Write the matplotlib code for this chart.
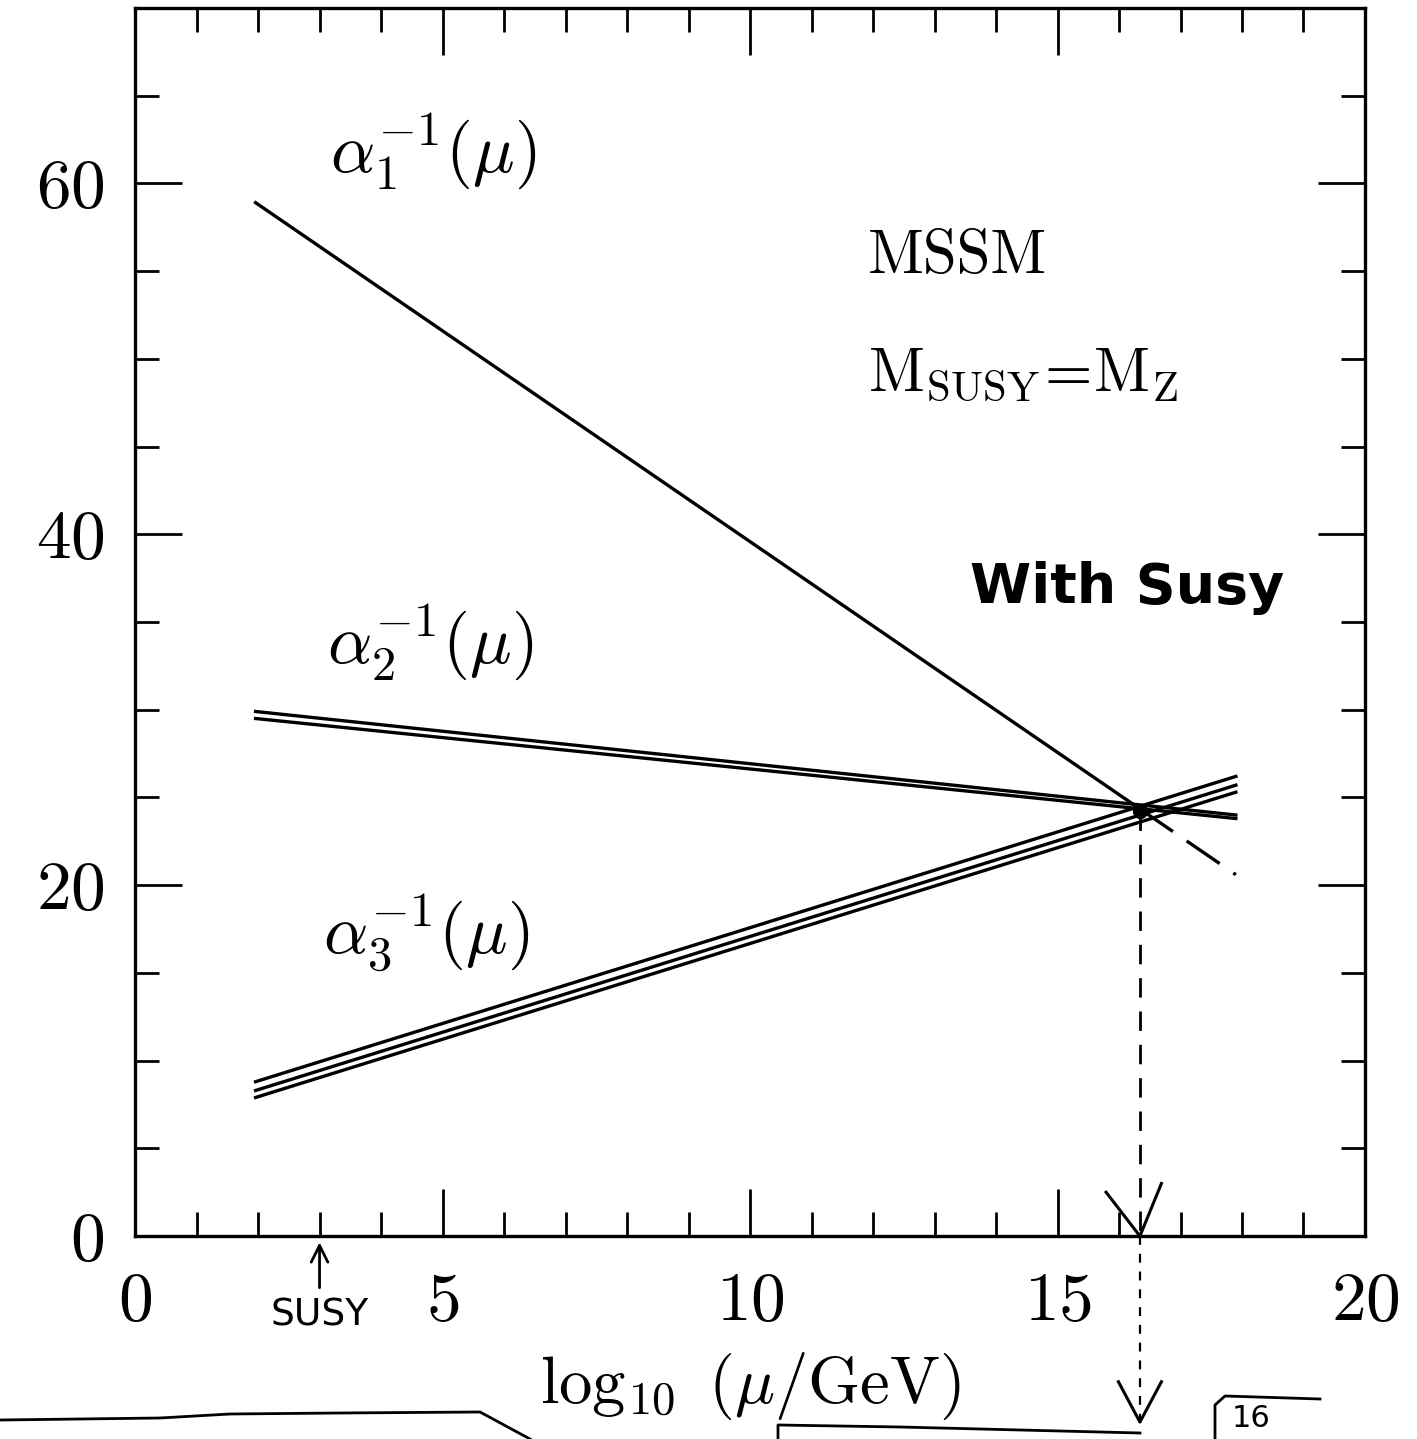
import numpy as np
import matplotlib
matplotlib.use('Agg')
import matplotlib.pyplot as plt

plt.rcParams['mathtext.fontset'] = 'cm'
plt.rcParams['font.family'] = ['cmr10', 'DejaVu Serif']
plt.rcParams['axes.formatter.use_mathtext'] = True

# endpoints of the running couplings (log10 of mu/GeV)
log_mu = [1.96, 17.9]
alpha1_inv = [58.9, 20.6]
alpha2_inv_hi = [29.9, 24.0]
alpha2_inv_lo = [29.5, 23.8]
alpha3_inv_hi = [8.8, 26.2]
alpha3_inv_mid = [8.3, 25.7]
alpha3_inv_lo = [7.9, 25.3]

# unification point
x_gut = 16.34
y_gut = 24.2
m_susy_log = 3.0

x_ticks = [0, 5, 10, 15, 20]
y_ticks = [0, 20, 40, 60]

fig = plt.figure(figsize=(14.17, 14.39), dpi=100)
ax = fig.add_axes([0.0953, 0.141, 0.868, 0.8535])
ax.set_xlim(0, 20)
ax.set_ylim(0, 70)

lw = 2.4
# alpha_1: solid up to the crossing, dashed afterwards
x1 = np.array(log_mu)
y1 = np.array(alpha1_inv)
slope1 = (y1[1] - y1[0]) / (x1[1] - x1[0])
ax.plot([x1[0], x_gut], [y1[0], y1[0] + slope1 * (x_gut - x1[0])], color='k', lw=lw)
ax.plot([x_gut, x1[1]], [y1[0] + slope1 * (x_gut - x1[0]), y1[1]], color='k', lw=lw,
        dashes=(12, 5))

for ys in (alpha2_inv_hi, alpha2_inv_lo):
    ax.plot(log_mu, ys, color='k', lw=lw)
for ys in (alpha3_inv_hi, alpha3_inv_mid, alpha3_inv_lo):
    ax.plot(log_mu, ys, color='k', lw=lw)

ax.plot([x_gut], [y_gut], 'ko', ms=10)
# drop line to the axis and beyond
ax.plot([x_gut, x_gut], [y_gut, 0], color='k', lw=2, dashes=(7, 5))
ax.plot([x_gut, x_gut], [0, -10.5], color='k', lw=1.6, dashes=(4, 4), clip_on=False)
ax.plot([x_gut - 0.35, x_gut, x_gut + 0.35], [-8.3, -10.6, -8.3], color='k', lw=2.2,
        clip_on=False)
# hand-drawn check at the axis
ax.plot([x_gut - 0.55, x_gut, x_gut + 0.35], [2.5, 0, 3.0], color='k', lw=2.2,
        clip_on=False)

# labels
fs = 50
ax.text(3.17, 61.8, r'$\alpha_1^{-1}(\mu)$', fontsize=fs, ha='left', va='center')
ax.text(3.12, 33.8, r'$\alpha_2^{-1}(\mu)$', fontsize=fs, ha='left', va='center')
ax.text(3.06, 17.2, r'$\alpha_3^{-1}(\mu)$', fontsize=fs, ha='left', va='center')
ax.text(11.92, 54.9, 'MSSM', fontsize=44, ha='left', va='baseline')
ax.text(11.92, 48.2, r'$\mathrm{M_{SUSY}\!=\!M_Z}$', fontsize=44, ha='left', va='baseline')
ax.text(13.58, 36.1, 'With Susy', fontsize=40, ha='left', va='baseline',
        family='DejaVu Sans', weight='bold')

# SUSY scale marker
ax.annotate('', xy=(m_susy_log, -0.2), xytext=(m_susy_log, -3.1),
            arrowprops=dict(arrowstyle='->', color='k', lw=2, mutation_scale=30),
            annotation_clip=False)
ax.text(m_susy_log, -3.5, 'SUSY', fontsize=27, ha='center', va='top',
        family='DejaVu Sans', clip_on=False)

# ticks
ax.set_xticks(x_ticks)
ax.set_xticks(np.arange(0, 21, 1), minor=True)
ax.set_yticks(y_ticks)
ax.set_yticks(np.arange(0, 70, 5), minor=True)
ax.tick_params(which='both', direction='in', top=True, right=True, width=2, colors='k')
ax.tick_params(which='major', length=34, labelsize=50)
ax.tick_params(which='minor', length=17)
ax.tick_params(axis='x', which='major', pad=26)
ax.tick_params(axis='y', which='major', pad=22)
for s in ax.spines.values():
    s.set_linewidth(2.4)

ax.set_xlabel(r'$\log_{10}\ (\mu/\mathrm{GeV})$', fontsize=48, labelpad=12)

# hand-drawn strokes along the bottom edge (figure pixel coordinates)
W, H = 1417, 1439
stroke_left_x = [0, 160, 230, 340, 480, 530]
stroke_left_y = [1420, 1418, 1414, 1413, 1412, 1439]
stroke_mid_x = [778, 778, 900, 1140]
stroke_mid_y = [1439, 1425, 1427, 1433]
box_x = [1215, 1215, 1225, 1320]
box_y = [1439, 1405, 1396, 1399]
for xs, ys in ((stroke_left_x, stroke_left_y), (stroke_mid_x, stroke_mid_y), (box_x, box_y)):
    fig.add_artist(plt.Line2D(np.array(xs) / W, 1 - np.array(ys) / H, color='k', lw=2,
                              transform=fig.transFigure))
fig.text(1232 / W, 1 - 1404 / H, '16', fontsize=22, ha='left', va='top',
         family='DejaVu Sans')

fig.savefig('out.png', dpi=100, facecolor='white')
